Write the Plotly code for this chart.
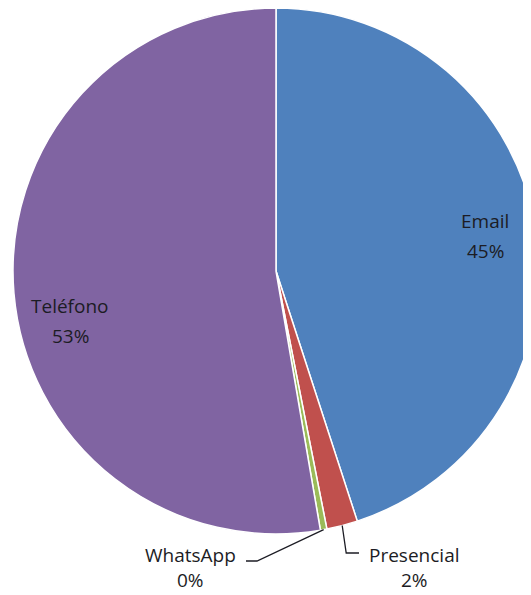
import math
import plotly.graph_objects as go

# Data
categories = ["Email", "Presencial", "WhatsApp", "Teléfono"]
values = [45.0, 1.9, 0.4, 52.7]
pct_labels = ["45%", "2%", "0%", "53%"]
colors = ["#4F81BD", "#C0504D", "#9BBB59", "#8064A2"]

W, H = 531, 595
OFF = 8  # page body margin
# pie geometry in window pixels (layout choice)
CX, CY, R = 276.0, 271.0, 263.0

def px(x):
    return (x - OFF) / W

def py(y):
    return 1 - (y - OFF) / H

fig = go.Figure(go.Pie(
    labels=categories,
    values=values,
    sort=False,
    direction="clockwise",
    rotation=0,
    marker=dict(colors=colors, line=dict(color="white", width=1.5)),
    textinfo="none",
    hoverinfo="label+percent",
    showlegend=False,
    domain=dict(x=[max(0, px(CX - R)), min(1, px(CX + R))],
                y=[max(0, py(CY + R)), min(1, py(CY - R))]),
))

font = dict(family="Open Sans, DejaVu Sans, sans-serif", size=19, color="#1c1c24")

total = sum(values)
cum = 0.0
mids = []
for v in values:
    mids.append((cum + v / 2) / total * 360.0)
    cum += v

def edge(angle_deg, rr=R):
    a = math.radians(angle_deg)
    return CX + rr * math.sin(a), CY - rr * math.cos(a)

annotations = []
# (x centre, first-line y, second-line y) in window pixels
label_pos = {
    "Email": (485, 221, 251),
    "Teléfono": (70, 306, 336),
    "Presencial": (414, 555, 580),
    "WhatsApp": (190, 555, 580),
}
for cat, pct in zip(categories, pct_labels):
    x, y1, y2 = label_pos[cat]
    for txt, yy in ((cat, y1), (pct, y2)):
        annotations.append(dict(
            x=px(x), y=py(yy), xref="paper", yref="paper",
            text=txt, showarrow=False, font=font, borderpad=0,
            align="center", xanchor="center", yanchor="middle",
        ))

shapes = []
# leader for Presencial
sx, sy = edge(mids[1])
shapes.append(dict(
    type="path", xref="paper", yref="paper",
    path=f"M {px(sx)} {py(sy)} L {px(sx + 4)} {py(553)} L {px(359)} {py(553)}",
    line=dict(color="#1c1c24", width=1.3),
))
# leader for WhatsApp
wx, wy = edge(mids[2])
shapes.append(dict(
    type="path", xref="paper", yref="paper",
    path=f"M {px(wx)} {py(wy)} L {px(257)} {py(561)} L {px(246)} {py(561)}",
    line=dict(color="#1c1c24", width=1.3),
))

fig.update_layout(
    width=W, height=H,
    margin=dict(l=0, r=0, t=0, b=0),
    paper_bgcolor="white",
    plot_bgcolor="white",
    annotations=annotations,
    shapes=shapes,
)

fig.write_html("out.html")
